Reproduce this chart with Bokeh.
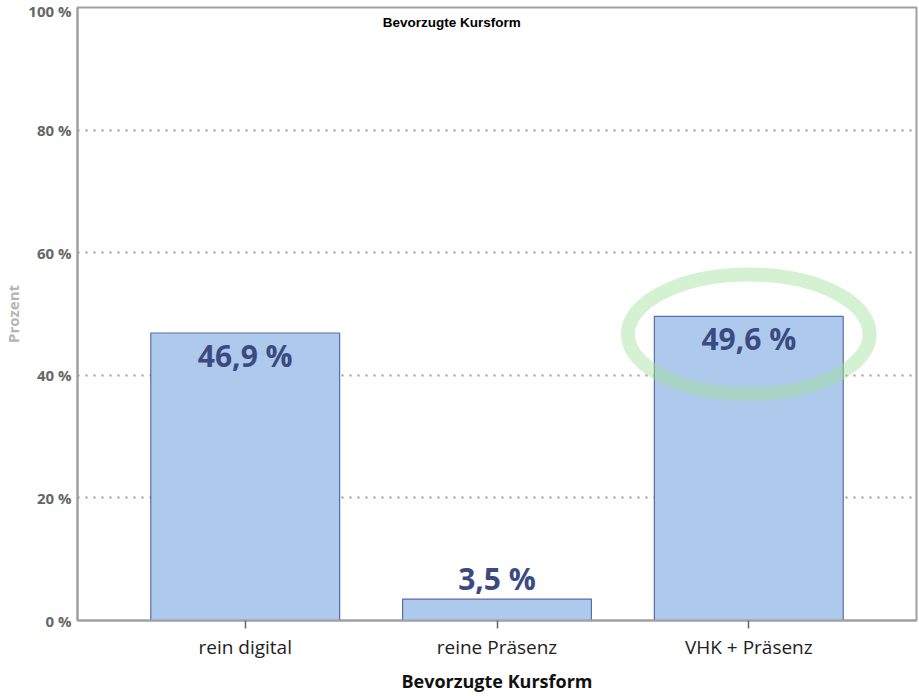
from bokeh.plotting import figure
from bokeh.models import ColumnDataSource, FixedTicker, Label, Range1d
from bokeh.core.properties import value
from bokeh.embed import file_html
from bokeh.resources import INLINE

categories = ["rein digital", "reine Präsenz", "VHK + Präsenz"]
values = [46.9, 3.5, 49.6]
y_ticks = [0, 20, 40, 60, 80, 100]
y_tick_labels = ["0 %", "20 %", "40 %", "60 %", "80 %", "100 %"]
highlight_index = 2

xs = list(range(len(categories)))
labels = [f"{v:.1f}".replace(".", ",") + " %" for v in values]
offsets = [22 if v > 10 else -21 for v in values]

src = ColumnDataSource(dict(x=xs, top=values, label=labels, off=offsets))

p = figure(output_backend="svg", toolbar_location=None,
           frame_width=839, frame_height=613,
           x_range=Range1d(-0.666, 2.666), y_range=Range1d(0, 100),
           min_border_top=7, min_border_right=2, min_border_bottom=0, min_border_left=0,
           background_fill_color="white", border_fill_color="white")

p.outline_line_color = "#a0a0a0"
p.outline_line_width = 2

p.vbar(x="x", top="top", width=0.75, bottom=0, source=src,
       fill_color="#adc9ec", line_color="#5c6ca4", line_width=1.2)

# highlight ellipse around the third bar
p.ellipse(x=[xs[highlight_index]], y=[values[highlight_index] - 2.9], width=[0.96], height=[19.5],
          fill_color=None, line_color="#9fe39a", line_alpha=0.45, line_width=14)

p.text(x="x", y="top", text="label", y_offset="off", source=src,
       text_align="center", text_baseline="middle",
       text_font=value("Open Sans"), text_font_style="bold",
       text_font_size="30px", text_color="#3c4a82")

# grid
p.xgrid.grid_line_color = None
p.ygrid.ticker = FixedTicker(ticks=[20, 40, 60, 80])
p.ygrid.grid_line_color = "#999999"
p.ygrid.grid_line_dash = "2 6"
p.ygrid.grid_line_width = 2

# y axis
p.yaxis.ticker = FixedTicker(ticks=y_ticks)
p.yaxis.major_label_overrides = {t: l for t, l in zip(y_ticks, y_tick_labels)}
p.yaxis.major_tick_line_color = None
p.yaxis.minor_tick_line_color = None
p.yaxis.major_tick_out = 0
p.yaxis.major_label_standoff = 6
p.yaxis.axis_line_color = "#a0a0a0"
p.yaxis.axis_line_width = 2
p.yaxis.major_label_text_font = "Open Sans"
p.yaxis.major_label_text_font_style = "bold"
p.yaxis.major_label_text_font_size = "15px"
p.yaxis.major_label_text_color = "#666666"
p.yaxis.axis_label = "Prozent"
p.yaxis.axis_label_text_font = "Open Sans"
p.yaxis.axis_label_text_font_style = "bold"
p.yaxis.axis_label_text_font_size = "15px"
p.yaxis.axis_label_text_color = "#b4b4b4"
p.yaxis.axis_label_standoff = 2

# x axis
p.xaxis.ticker = FixedTicker(ticks=xs)
p.xaxis.major_label_overrides = {i: c for i, c in zip(xs, categories)}
p.xaxis.minor_tick_line_color = None
p.xaxis.major_tick_in = 0
p.xaxis.major_tick_out = 8
p.xaxis.major_tick_line_color = "#666666"
p.xaxis.major_tick_line_width = 1.5
p.xaxis.axis_line_color = "#a0a0a0"
p.xaxis.axis_line_width = 2
p.xaxis.major_label_standoff = 5
p.xaxis.major_label_text_font = "Open Sans"
p.xaxis.major_label_text_font_style = "normal"
p.xaxis.major_label_text_font_size = "19px"
p.xaxis.major_label_text_color = "#222222"
p.xaxis.axis_label = "Bevorzugte Kursform"
p.xaxis.axis_label_text_font = "Open Sans"
p.xaxis.axis_label_text_font_style = "bold"
p.xaxis.axis_label_text_font_size = "18px"
p.xaxis.axis_label_text_color = "#111111"
p.xaxis.axis_label_standoff = 6

# small title inside the plot area
title = Label(x=0.82, y=97.6, text="Bevorzugte Kursform",
              text_font="Liberation Sans", text_font_style="bold",
              text_font_size="13.5px", text_color="#000000",
              text_align="center", text_baseline="middle")
p.add_layout(title)

open("out.html", "w").write(file_html(p, INLINE))
